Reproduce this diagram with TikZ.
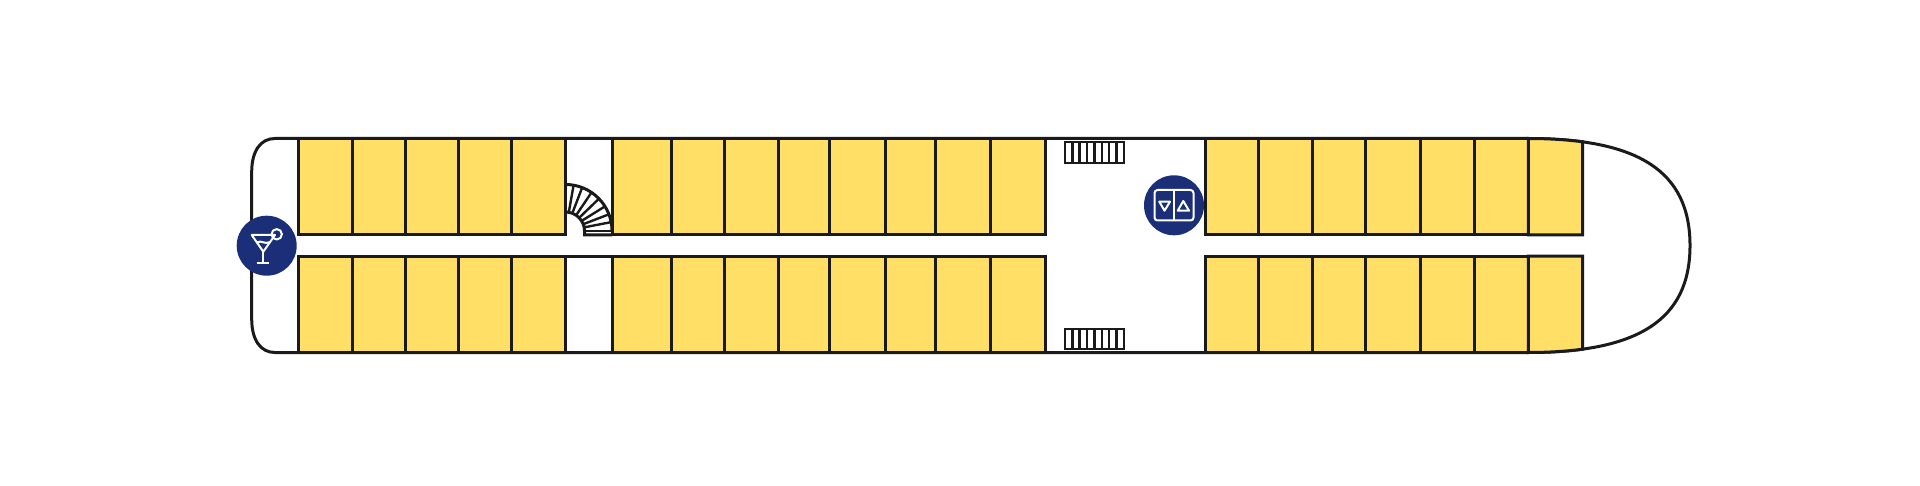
\documentclass[tikz,border=0pt]{standalone}
\usepackage{tikz}
\usetikzlibrary{calc}
\definecolor{cabinyellow}{HTML}{FFDF66}
\definecolor{iconblue}{HTML}{1B2F78}
\definecolor{planline}{HTML}{1A1A1A}
\tikzset{
  wall/.style={draw=planline, line width=1.5pt},
  cabin/.style={wall, fill=cabinyellow},
  tread/.style={draw=planline, line width=1.2pt},
  iconbg/.style={circle, fill=iconblue, minimum size=30pt, inner sep=0pt},
  iconline/.style={draw=white, line width=1pt, line join=round},
}
\begin{document}
\begin{tikzpicture}[x=0.5pt, y=-0.5pt]
    \useasboundingbox (0,0) rectangle (1920,486);
    % hull
    \draw[wall] (298,138.5) -- (275,138.5) .. controls (260.5,138.5) and (251.7,151) .. (251.7,172)
      -- (251.7,319) .. controls (251.7,340) and (260.5,352.5) .. (275,352.5) -- (1528,352.5)
      .. controls (1638,352.5) and (1690,320) .. (1690,245.5)
      .. controls (1690,171) and (1638,138.5) .. (1528,138.5) -- (298,138.5);
    % cabins
    \foreach \xa/\xb in {298.3/352.3, 352.3/405.3, 405.3/458.7, 458.7/511.7, 511.7/565.3,
        612/671.3, 671.3/724.3, 724.3/778.3, 778.3/829.3, 829.3/885, 885/935.7, 935.7/990, 990/1045.3,
        1205.7/1258, 1258/1312, 1312/1365.7, 1365.7/1420, 1420/1474.3, 1474.3/1528.3} {
      \draw[cabin] (\xa,138.5) rectangle (\xb,235);
      \draw[cabin] (\xa,256) rectangle (\xb,352.5);
    }
    % bow cabins follow the hull
    \draw[cabin] (1528.3,138.5) .. controls (1548,138.5) and (1566,139.6) .. (1582.5,141.8) -- (1582.5,235) -- (1528.3,235) -- cycle;
    \draw[cabin] (1528.3,352.5) .. controls (1548,352.5) and (1566,351.4) .. (1582.5,349.2) -- (1582.5,256) -- (1528.3,256) -- cycle;
    % lower corridor bay
    \draw[wall] (565.3,256) -- (612,256);
    \draw[wall] (565.3,352) -- (612,352);
    % spiral stairs
    \coordinate (stairc) at (565.5,231);
    \foreach \ang in {0,11,21,32,44,56,69,80} {
      \draw[tread] ($(stairc)+(-\ang:19)$) -- ($(stairc)+(-\ang:46.5)$);
    }
    \draw[wall] (565.5,184.5) arc[start angle=-90, end angle=0, radius=46.5];
    \draw[wall] (565.5,212) arc[start angle=-90, end angle=0, radius=19] -- (584.5,235) -- (612,235);
    % side stairs
    \foreach \ya/\yb in {142.3/163, 328.7/348.8} {
      \draw[tread] (1065,\ya) rectangle (1123.7,\yb);
      \foreach \k in {1,...,7} {
        \draw[tread] ({1065+\k*7.34},\ya) -- ({1065+\k*7.34},\yb);
      }
    }
    % bar icon
    \node[iconbg] (bar) at (266.7,245.7) {};
    \draw[iconline] (251.7,235) -- (275,235) -- (263.3,251.7) -- cycle;
    \draw[iconline] (257.3,242.3) .. controls (261,240) and (265,244.5) .. (269.3,242.3);
    \draw[iconline] (263.3,251.7) -- (263.3,262.7);
    \draw[iconline] (256.7,262.7) -- (269.3,262.7);
    \draw[iconline] (276.7,234.3) circle[radius=5.2];
    % lift icon
    \node[iconbg] (lift) at (1174,205.3) {};
    \draw[iconline, rounded corners=1.5pt] (1154.5,190) rectangle (1193.5,220.5);
    \draw[iconline] (1174.3,190) -- (1174.3,220.5);
    \draw[iconline] (1159.3,201.7) -- (1170,201.7) -- (1164.5,210.7) -- cycle;
    \draw[iconline] (1177.7,210.7) -- (1189,210.7) -- (1183.3,201) -- cycle;
\end{tikzpicture}
\end{document}
